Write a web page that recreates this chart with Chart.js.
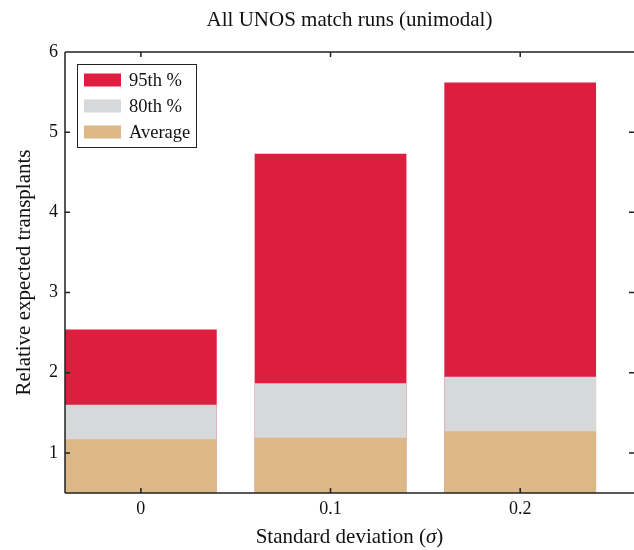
<!DOCTYPE html>
<html>
<head>
<meta charset="utf-8">
<script src="https://cdn.jsdelivr.net/npm/chart.js@4"></script>
<style>
  html, body { margin: 0; padding: 0; background: #fff; }
  #wrap { width: 634px; height: 550px; }
</style>
</head>
<body>
<div id="wrap"><canvas id="unosChart"></canvas></div>
<script>
// valores
const categories = ['0', '0.1', '0.2'];
const seriesNames = ['95th %', '80th %', 'Average'];
const p95 = [2.54, 4.73, 5.62];
const p80 = [1.60, 1.87, 1.95];
const average = [1.17, 1.19, 1.27];
const yTicks = [1, 2, 3, 4, 5, 6];

const COLORS = {
  red: 'rgb(221, 30, 63)',
  grey: 'rgb(215, 216, 218)',
  tan: 'rgb(221, 184, 135)',
  axis: '#222'
};
const seriesColors = [COLORS.red, COLORS.grey, COLORS.tan];
const SERIF = '"Liberation Serif", "DejaVu Serif", serif';

const toPoints = vals => vals.map((v, i) => ({ x: i, y: v }));

const data = {
  datasets: [
    { label: seriesNames[0], data: toPoints(p95), backgroundColor: seriesColors[0], order: 3 },
    { label: seriesNames[1], data: toPoints(p80), backgroundColor: seriesColors[1], order: 2 },
    { label: seriesNames[2], data: toPoints(average), backgroundColor: seriesColors[2], order: 1 }
  ]
};

// ejes, marcas hacia dentro, leyenda con marco y titulos
const framePlugin = {
  id: 'frame',
  afterDatasetsDraw(chart) {
    const ctx = chart.ctx;
    const a = chart.chartArea;
    const xs = chart.scales.x, ys = chart.scales.y;
    ctx.save();
    ctx.strokeStyle = COLORS.axis;
    ctx.lineWidth = 1.5;
    ctx.beginPath();
    ctx.moveTo(a.left, a.top); ctx.lineTo(a.right, a.top);
    ctx.moveTo(a.left, a.top); ctx.lineTo(a.left, a.bottom);
    ctx.moveTo(a.left, a.bottom); ctx.lineTo(a.right, a.bottom);
    yTicks.forEach(v => {
      const y = ys.getPixelForValue(v);
      ctx.moveTo(a.left, y); ctx.lineTo(a.left + 5, y);
      ctx.moveTo(a.right - 5, y); ctx.lineTo(a.right, y);
    });
    categories.forEach((c, i) => {
      const x = xs.getPixelForValue(i);
      ctx.moveTo(x, a.bottom); ctx.lineTo(x, a.bottom - 5);
      ctx.moveTo(x, a.top); ctx.lineTo(x, a.top + 5);
    });
    ctx.stroke();

    // leyenda
    const lx = 77, ly = 64, lw = 119, lh = 83;
    ctx.fillStyle = '#fff';
    ctx.fillRect(lx, ly, lw, lh);
    ctx.lineWidth = 1;
    ctx.strokeStyle = COLORS.axis;
    ctx.strokeRect(lx + 0.5, ly + 0.5, lw, lh);
    ctx.font = '18.5px ' + SERIF;
    ctx.textBaseline = 'middle';
    ctx.textAlign = 'left';
    seriesNames.forEach((name, i) => {
      const cy = 80 + i * 26;
      ctx.fillStyle = seriesColors[i];
      ctx.fillRect(84, cy - 6.5, 37, 13);
      ctx.fillStyle = '#111';
      ctx.fillText(name, 129, cy + 1);
    });

    // titulo principal
    const cx = (a.left + a.right) / 2;
    ctx.font = '21px ' + SERIF;
    ctx.textAlign = 'center';
    ctx.fillStyle = '#111';
    ctx.fillText('All UNOS match runs (unimodal)', cx, 20);

    // titulo eje x con sigma en cursiva
    const parts = [['Standard deviation (', ''], ['\u03C3', 'italic '], [')', '']];
    let total = 0;
    parts.forEach(p => { ctx.font = p[1] + '21px ' + SERIF; total += ctx.measureText(p[0]).width; });
    let x = cx - total / 2;
    ctx.textAlign = 'left';
    parts.forEach(p => {
      ctx.font = p[1] + '21px ' + SERIF;
      ctx.fillText(p[0], x, 537);
      x += ctx.measureText(p[0]).width;
    });
    ctx.restore();
  }
};

const config = {
  type: 'bar',
  data: data,
  options: {
    responsive: true,
    maintainAspectRatio: false,
    animation: false,
    layout: { padding: { top: 52, right: 0, bottom: 0, left: 0 } },
    datasets: {
      bar: { grouped: false, categoryPercentage: 1.0, barPercentage: 0.8, borderWidth: 0 }
    },
    plugins: {
      legend: { display: false },
      title: { display: false },
      tooltip: { enabled: false }
    },
    scales: {
      x: {
        type: 'linear',
        offset: false,
        min: -0.4,
        max: 2.6,
        afterBuildTicks: s => { s.ticks = categories.map((c, i) => ({ value: i })); },
        afterFit: s => { s.height = 57; },
        grid: { display: false, drawTicks: false },
        border: { display: false },
        ticks: {
          color: '#111',
          font: { family: SERIF, size: 18 },
          padding: 5,
          maxRotation: 0,
          callback: v => categories[v]
        }
      },
      y: {
        min: 0.5,
        max: 6,
        afterBuildTicks: s => { s.ticks = yTicks.map(v => ({ value: v })); },
        afterFit: s => { s.width = 65; },
        grid: { display: false, drawTicks: false },
        border: { display: false },
        title: {
          display: true,
          text: 'Relative expected transplants',
          color: '#111',
          font: { family: SERIF, size: 21 },
          padding: { top: 12, bottom: 0 }
        },
        ticks: {
          color: '#111',
          font: { family: SERIF, size: 18 },
          padding: 7,
          callback: v => String(v)
        }
      }
    }
  },
  plugins: [framePlugin]
};

const unosChart = new Chart(document.getElementById('unosChart'), config);
</script>
</body>
</html>
